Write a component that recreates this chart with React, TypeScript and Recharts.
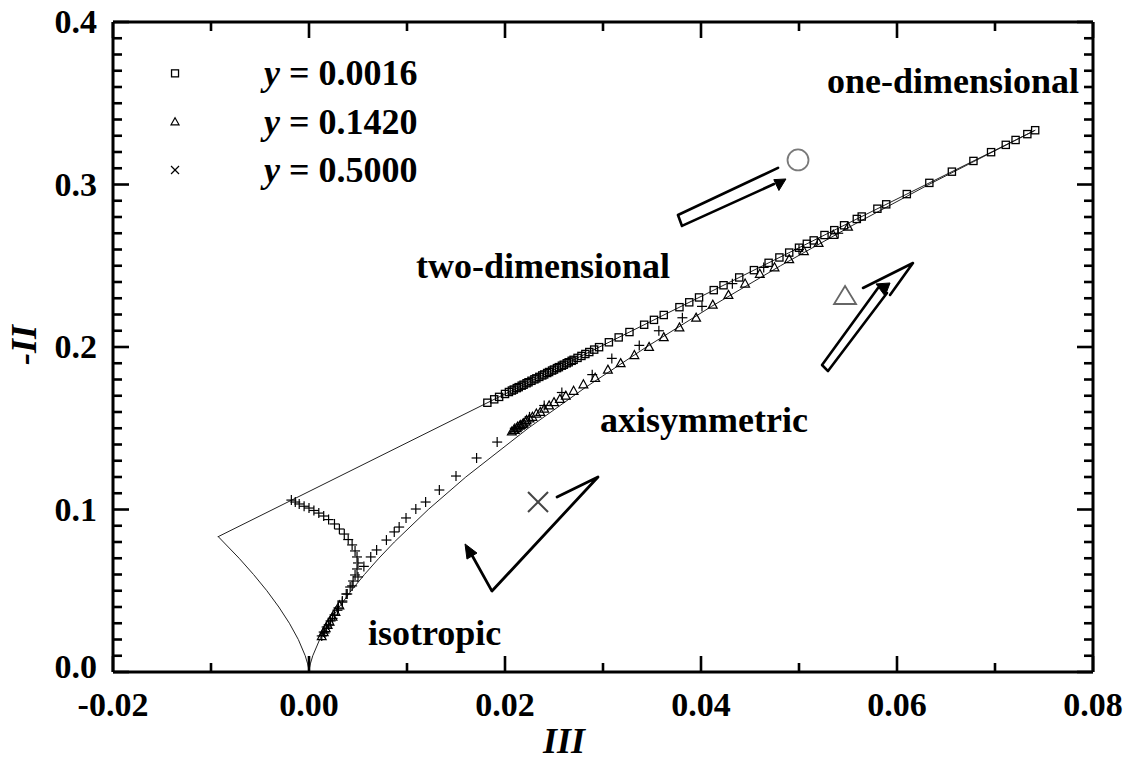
import React from 'react';
import { ScatterChart, Scatter, XAxis, YAxis } from 'recharts';

const FONT = '"Liberation Serif", "Times New Roman", serif';
const FS = 36;
const TICK_FS = 34;

// ---- axis ticks ----
const xTicks = [-0.02, -0.01, 0, 0.01, 0.02, 0.03, 0.04, 0.05, 0.06, 0.07, 0.08];
const xTickLabels = ['-0.02', '', '0.00', '', '0.02', '', '0.04', '', '0.06', '', '0.08'];
const yTicks = [
  0, 0.01, 0.02, 0.03, 0.04, 0.05, 0.06, 0.07, 0.08, 0.09,
  0.1, 0.11, 0.12, 0.13, 0.14, 0.15, 0.16, 0.17, 0.18, 0.19,
  0.2, 0.21, 0.22, 0.23, 0.24, 0.25, 0.26, 0.27, 0.28, 0.29,
  0.3, 0.31, 0.32, 0.33, 0.34, 0.35, 0.36, 0.37, 0.38, 0.39, 0.4,
];
const yTickLabels = [
  '0.0', '', '', '', '', '', '', '', '', '',
  '0.1', '', '', '', '', '', '', '', '', '',
  '0.2', '', '', '', '', '', '', '', '', '',
  '0.3', '', '', '', '', '', '', '', '', '',
  '0.4',
];

// ---- Lumley triangle boundaries [III, -II] ----
const twoComponentLine: number[][] = [[-0.00926, 0.0833], [0.07407, 0.3333]];
const leftAxisymmetric: number[][] = [
  [0, 0], [-0.00005, 0.0025], [-0.000136, 0.005], [-0.000385, 0.01], [-0.00109, 0.02],
  [-0.002, 0.03], [-0.00308, 0.04], [-0.0043, 0.05], [-0.00566, 0.06], [-0.00713, 0.07],
  [-0.00926, 0.0833],
];
const rightAxisymmetric: number[][] = [
  [0, 0], [0.00005, 0.0025], [0.000136, 0.005], [0.000385, 0.01], [0.00109, 0.02],
  [0.002, 0.03], [0.00308, 0.04], [0.0043, 0.05], [0.00566, 0.06], [0.00713, 0.07],
  [0.00871, 0.08], [0.01217, 0.1], [0.016, 0.12], [0.02236, 0.15], [0.02818, 0.175],
  [0.03443, 0.2], [0.04108, 0.225], [0.04811, 0.25], [0.0555, 0.275], [0.06325, 0.3],
  [0.07407, 0.3333],
];

// ---- data series [III, -II] ----
const seriesY0016: number[][] = [
  [0.0182, 0.1657], [0.0189, 0.1678], [0.0194, 0.1693], [0.02, 0.1711], [0.0204, 0.1723],
  [0.0207, 0.1732], [0.0209, 0.1738], [0.0212, 0.1747], [0.0214, 0.1753], [0.0217, 0.1762],
  [0.0219, 0.1768], [0.0222, 0.1777], [0.0224, 0.1783], [0.0227, 0.1792], [0.023, 0.1801],
  [0.0232, 0.1807], [0.0235, 0.1816], [0.0238, 0.1825], [0.024, 0.1831], [0.0243, 0.184],
  [0.0245, 0.1846], [0.0248, 0.1855], [0.025, 0.1861], [0.0253, 0.187], [0.0255, 0.1876],
  [0.0258, 0.1885], [0.026, 0.1891], [0.0263, 0.19], [0.0265, 0.1906], [0.0268, 0.1915],
  [0.027, 0.1921], [0.0274, 0.1933], [0.0278, 0.1945], [0.0282, 0.1957], [0.0286, 0.1969],
  [0.0291, 0.1984], [0.0296, 0.1999], [0.0306, 0.2029], [0.0316, 0.2059], [0.0327, 0.2092],
  [0.0342, 0.2137], [0.0352, 0.2167], [0.0362, 0.2197], [0.0378, 0.2245], [0.0388, 0.2275],
  [0.0398, 0.2305], [0.0413, 0.235], [0.0423, 0.238], [0.0439, 0.2428], [0.0454, 0.2473],
  [0.0469, 0.2518], [0.048, 0.2551], [0.049, 0.2581], [0.05, 0.2611], [0.0508, 0.2635],
  [0.0515, 0.2656], [0.0526, 0.2689], [0.0536, 0.2719], [0.0546, 0.2749], [0.0559, 0.2788],
  [0.0564, 0.2803], [0.058, 0.2851], [0.0589, 0.2878], [0.061, 0.2941], [0.0633, 0.301],
  [0.0656, 0.3079], [0.0678, 0.3145], [0.0696, 0.3199], [0.0711, 0.3244], [0.0721, 0.3274],
  [0.0733, 0.331], [0.0741, 0.3334],
];
const seriesY1420: number[][] = [
  [0.0013, 0.022], [0.0015, 0.0245], [0.0017, 0.027], [0.0019, 0.029], [0.0021, 0.031],
  [0.0024, 0.034], [0.0027, 0.037], [0.0031, 0.041],
  [0.0207, 0.148], [0.0209, 0.149], [0.021, 0.149], [0.0212, 0.150], [0.0213, 0.151], [0.0215, 0.1515],
  [0.0216, 0.152], [0.0218, 0.1525], [0.0219, 0.153], [0.0221, 0.154],
  [0.0222, 0.155], [0.0225, 0.156], [0.0228, 0.157], [0.0232, 0.159], [0.0236, 0.16],
  [0.024, 0.162], [0.0245, 0.164], [0.025, 0.166], [0.0256, 0.168], [0.0262, 0.17],
  [0.027, 0.173], [0.028, 0.177], [0.0292, 0.181], [0.0305, 0.186], [0.0318, 0.19],
  [0.0332, 0.195], [0.0347, 0.2], [0.0362, 0.206], [0.0378, 0.212], [0.0395, 0.218],
  [0.0412, 0.226], [0.0428, 0.232], [0.0445, 0.239], [0.046, 0.245], [0.0475, 0.249],
  [0.049, 0.254], [0.0505, 0.259], [0.052, 0.264], [0.0535, 0.269], [0.055, 0.274],
];
const seriesY5000: number[][] = [
  [-0.0018, 0.1058], [-0.0014, 0.1046], [-0.001, 0.1034], [-0.0005, 0.102], [0.0, 0.1009],
  [0.0005, 0.0994], [0.001, 0.0978], [0.0015, 0.096], [0.002, 0.0938], [0.0026, 0.0911],
  [0.0031, 0.088], [0.0036, 0.0849], [0.004, 0.0815], [0.0044, 0.0782], [0.0047, 0.0745],
  [0.0049, 0.0708], [0.005, 0.0671], [0.0049, 0.0634], [0.0047, 0.0597], [0.0045, 0.056],
  [0.0042, 0.0523], [0.0038, 0.048], [0.0034, 0.0437], [0.003, 0.0394], [0.0026, 0.0351],
  [0.0022, 0.0314], [0.0018, 0.0277], [0.0015, 0.0246], [0.0013, 0.0222],
  [0.0016, 0.024], [0.002, 0.029], [0.0024, 0.033], [0.0029, 0.038], [0.0034, 0.043],
  [0.0039, 0.048], [0.0044, 0.053], [0.005, 0.0585], [0.0056, 0.065], [0.0063, 0.0708],
  [0.0069, 0.0751], [0.0079, 0.0812], [0.0087, 0.0862], [0.0092, 0.0892], [0.0099, 0.0948],
  [0.0109, 0.1003], [0.0119, 0.1046], [0.0133, 0.112], [0.015, 0.1206], [0.0171, 0.1317],
  [0.0192, 0.1415], [0.021, 0.15], [0.0225, 0.157], [0.024, 0.164], [0.0258, 0.172],
  [0.0289, 0.183], [0.0309, 0.193], [0.0337, 0.201], [0.0357, 0.21], [0.0381, 0.218],
  [0.0401, 0.225], [0.0432, 0.239], [0.0464, 0.249], [0.05, 0.26], [0.054, 0.27],
];

// ---- legend ----
const legendKinds = ['square', 'triangle', 'cross'];
const legendValues = ['0.0016', '0.1420', '0.5000'];
const legendPoints: number[][] = [[-0.01367, 0.3684], [-0.01367, 0.3386], [-0.01367, 0.3089]];

// ---- region labels ----
const regionLabels = ['one-dimensional', 'two-dimensional', 'axisymmetric', 'isotropic'];
const regionPoints: number[][] = [[0.05286, 0.3563], [0.01092, 0.2425], [0.02969, 0.1477], [0.00602, 0.0166]];

// ---- big open symbols ----
const bigSymbolKinds = ['circle', 'triangle', 'cross'];
const bigSymbolPoints: number[][] = [[0.0499, 0.3151], [0.0547, 0.2314], [0.02337, 0.1046]];

// ---- arrows ----
const arrowCircleBody: number[][] = [[0.04786, 0.3102], [0.03765, 0.2812], [0.03806, 0.2745], [0.04745, 0.3003]];
const arrowCircleHead: number[][] = [[0.04867, 0.3034], [0.04795, 0.2963], [0.04743, 0.303]];
const arrowTriBody: number[][] = [[0.05806, 0.2363], [0.05235, 0.1889], [0.05296, 0.1852], [0.05898, 0.2332]];
const arrowTriHeadLines: number[][] = [[0.05653, 0.2363], [0.06163, 0.2517], [0.05929, 0.232]];
const arrowTriHead: number[][] = [[0.05786, 0.2388], [0.05929, 0.2394], [0.05878, 0.2314]];
const arrowCrossBody: number[][] = [[0.02531, 0.1077], [0.02949, 0.12], [0.01867, 0.0498], [0.01622, 0.0763]];
const arrowCrossHead: number[][] = [[0.01592, 0.0788], [0.01714, 0.0732], [0.01612, 0.0695]];

const toXY = (arr: number[][], extra?: (i: number) => any) =>
  arr.map((p, i) => ({ x: p[0], y: p[1], ...(extra ? extra(i) : {}) }));

const findLabel = (ticks: number[], labels: string[], v: number) => {
  const i = ticks.findIndex((t) => Math.abs(t - v) < 1e-9);
  return i >= 0 ? labels[i] : '';
};

const TICK_W = 2.6;
const MAJOR = 16;
const MINOR = 9;

const BottomTick = (p: any) => {
  const lab = findLabel(xTicks, xTickLabels, p.payload.value);
  const len = lab ? MAJOR : MINOR;
  return (
    <g>
      <line x1={p.x} x2={p.x} y1={p.y} y2={p.y - len} stroke="#000" strokeWidth={TICK_W} />
      {lab && (
        <text x={p.x} y={p.y + 44} textAnchor="middle" fontFamily={FONT} fontWeight="bold" fontSize={TICK_FS} fill="#000">
          {lab}
        </text>
      )}
    </g>
  );
};
const TopTick = (p: any) => {
  const lab = findLabel(xTicks, xTickLabels, p.payload.value);
  const len = lab ? MAJOR : MINOR;
  return <line x1={p.x} x2={p.x} y1={p.y} y2={p.y + len} stroke="#000" strokeWidth={TICK_W} />;
};
const LeftTick = (p: any) => {
  const lab = findLabel(yTicks, yTickLabels, p.payload.value);
  const len = lab ? MAJOR : MINOR;
  const isZero = Math.abs(p.payload.value) < 1e-9;
  return (
    <g>
      <line x1={p.x} x2={p.x + len} y1={p.y} y2={p.y} stroke="#000" strokeWidth={TICK_W} />
      {lab && (
        <text x={p.x - 16} y={p.y + (isZero ? 6 : 11)} textAnchor="end" fontFamily={FONT} fontWeight="bold" fontSize={TICK_FS} fill="#000">
          {lab}
        </text>
      )}
    </g>
  );
};
const RightTick = (p: any) => {
  const lab = findLabel(yTicks, yTickLabels, p.payload.value);
  const len = lab ? MAJOR : MINOR;
  return <line x1={p.x} x2={p.x - len} y1={p.y} y2={p.y} stroke="#000" strokeWidth={TICK_W} />;
};

const Square = (p: any) => (
  <rect x={p.cx - 3.6} y={p.cy - 3.6} width={7.2} height={7.2} fill="none" stroke="#000" strokeWidth={1.3} />
);
const Tri = (p: any) => (
  <polygon
    points={`${p.cx},${p.cy - 4.6} ${p.cx + 4.4},${p.cy + 3.4} ${p.cx - 4.4},${p.cy + 3.4}`}
    fill="none"
    stroke="#000"
    strokeWidth={1.2}
  />
);
const Plus = (p: any) => (
  <g stroke="#000" strokeWidth={1.2}>
    <line x1={p.cx - 5} x2={p.cx + 5} y1={p.cy} y2={p.cy} />
    <line x1={p.cx} x2={p.cx} y1={p.cy - 5} y2={p.cy + 5} />
  </g>
);
const Nothing = () => <g />;

const LegendShape = (p: any) => {
  const kind = p.kind ?? (p.payload && p.payload.kind);
  const value = p.value ?? (p.payload && p.payload.value);
  const { cx, cy } = p;
  let marker: any = null;
  if (kind === 'square') marker = <rect x={cx - 3.5} y={cy - 3.5} width={7} height={7} fill="#fff" stroke="#000" strokeWidth={1.3} />;
  else if (kind === 'triangle')
    marker = <polygon points={`${cx},${cy - 4} ${cx + 4},${cy + 3} ${cx - 4},${cy + 3}`} fill="#fff" stroke="#000" strokeWidth={1.2} />;
  else
    marker = (
      <g stroke="#000" strokeWidth={1.2}>
        <line x1={cx - 4} x2={cx + 4} y1={cy - 4} y2={cy + 4} />
        <line x1={cx - 4} x2={cx + 4} y1={cy + 4} y2={cy - 4} />
      </g>
    );
  return (
    <g>
      {marker}
      <text x={cx + 89} y={cy + 12} fontFamily={FONT} fontWeight="bold" fontSize={FS} fill="#000">
        <tspan fontStyle="italic">y</tspan>
        {` = ${value}`}
      </text>
    </g>
  );
};

const RegionShape = (p: any) => {
  const label = p.label ?? (p.payload && p.payload.label);
  return (
    <text x={p.cx} y={p.cy} fontFamily={FONT} fontWeight="bold" fontSize={FS} fill="#000">
      {label}
    </text>
  );
};

const BigSymbol = (p: any) => {
  const kind = p.kind ?? (p.payload && p.payload.kind);
  const { cx, cy } = p;
  if (kind === 'circle') return <circle cx={cx} cy={cy} r={10.5} fill="none" stroke="#7a7a7a" strokeWidth={1.8} />;
  if (kind === 'triangle')
    return (
      <polygon
        points={`${cx},${cy - 10} ${cx + 11},${cy + 8} ${cx - 11},${cy + 8}`}
        fill="none"
        stroke="#666"
        strokeWidth={1.8}
      />
    );
  return (
    <g stroke="#444" strokeWidth={2}>
      <line x1={cx - 10} x2={cx + 10} y1={cy - 10} y2={cy + 10} />
      <line x1={cx - 10} x2={cx + 10} y1={cy + 10} y2={cy - 10} />
    </g>
  );
};

const filledPolygon = (lp: any) => (
  <polygon points={(lp.points || []).map((q: any) => `${q.x},${q.y}`).join(' ')} fill="#000" stroke="#000" strokeWidth={1} />
);
const polyline = (w: number, color: string) => (lp: any) => (
  <polyline
    points={(lp.points || []).map((q: any) => `${q.x},${q.y}`).join(' ')}
    fill="none"
    stroke={color}
    strokeWidth={w}
    strokeLinejoin="round"
    strokeLinecap="round"
  />
);

const XLabel = (props: any) => {
  const vb = props.viewBox || { x: 113, y: 672, width: 980, height: 92 };
  return (
    <text x={vb.x + 451} y={vb.y + 81} textAnchor="middle" fontFamily={FONT} fontWeight="bold" fontStyle="italic" fontSize={FS} fill="#000">
      III
    </text>
  );
};
const YLabel = (props: any) => {
  const vb = props.viewBox || { x: 0, y: 22, width: 113, height: 650 };
  const cx = 24;
  const cy = vb.y + vb.height / 2 - 2;
  return (
    <text
      x={cx}
      y={cy}
      transform={`rotate(-90 ${cx} ${cy})`}
      textAnchor="middle"
      dominantBaseline="central"
      fontFamily={FONT}
      fontWeight="bold"
      fontStyle="italic"
      fontSize={FS}
      fill="#000"
    >
      -II
    </text>
  );
};

const axisLineStyle = { stroke: '#000', strokeWidth: 3 };

export default function App() {
  const common = { xAxisId: 'b', yAxisId: 'l', isAnimationActive: false } as any;
  return (
    <div style={{ position: 'absolute', left: 0, top: 0, width: 1133, height: 764, background: '#fff' }}>
      <ScatterChart width={1133} height={764} margin={{ top: 0, right: 0, bottom: 0, left: 0 }}>
        <XAxis
          xAxisId="b"
          type="number"
          dataKey="x"
          domain={[-0.02, 0.08]}
          ticks={xTicks}
          interval={0}
          allowDataOverflow
          height={92}
          tickSize={0}
          tickMargin={0}
          tickLine={false}
          axisLine={axisLineStyle}
          tick={(p: any) => <BottomTick {...p} />}
          label={{ content: (p: any) => <XLabel {...p} /> }}
        />
        <XAxis
          xAxisId="t"
          orientation="top"
          type="number"
          dataKey="x"
          domain={[-0.02, 0.08]}
          ticks={xTicks}
          interval={0}
          allowDataOverflow
          height={22}
          tickSize={0}
          tickMargin={0}
          tickLine={false}
          axisLine={axisLineStyle}
          tick={(p: any) => <TopTick {...p} />}
        />
        <YAxis
          yAxisId="l"
          type="number"
          dataKey="y"
          domain={[0, 0.4]}
          ticks={yTicks}
          interval={0}
          allowDataOverflow
          width={113}
          tickSize={0}
          tickMargin={0}
          tickLine={false}
          axisLine={axisLineStyle}
          tick={(p: any) => <LeftTick {...p} />}
          label={{ content: (p: any) => <YLabel {...p} /> }}
        />
        <YAxis
          yAxisId="r"
          orientation="right"
          type="number"
          dataKey="y"
          domain={[0, 0.4]}
          ticks={yTicks}
          interval={0}
          allowDataOverflow
          width={40}
          tickSize={0}
          tickMargin={0}
          tickLine={false}
          axisLine={axisLineStyle}
          tick={(p: any) => <RightTick {...p} />}
        />

        {/* Lumley triangle boundaries */}
        <Scatter {...common} name="two-component" data={toXY(twoComponentLine)} shape={Nothing} line={polyline(1, '#222')} />
        <Scatter {...common} name="axisymmetric-left" data={toXY(leftAxisymmetric)} shape={Nothing} line={polyline(1, '#222')} />
        <Scatter {...common} name="axisymmetric-right" data={toXY(rightAxisymmetric)} shape={Nothing} line={polyline(1, '#222')} />

        {/* data */}
        <Scatter {...common} name="y = 0.5000" data={toXY(seriesY5000)} shape={Plus} />
        <Scatter {...common} name="y = 0.1420" data={toXY(seriesY1420)} shape={Tri} />
        <Scatter {...common} name="y = 0.0016" data={toXY(seriesY0016)} shape={Square} />

        {/* arrows */}
        <Scatter {...common} name="arrow-c" data={toXY(arrowCircleBody)} shape={Nothing} line={polyline(2.6, '#000')} />
        <Scatter {...common} name="arrow-c-head" data={toXY(arrowCircleHead)} shape={Nothing} line={filledPolygon} />
        <Scatter {...common} name="arrow-t" data={toXY(arrowTriBody)} shape={Nothing} line={polyline(2.6, '#000')} />
        <Scatter {...common} name="arrow-t-lines" data={toXY(arrowTriHeadLines)} shape={Nothing} line={polyline(2.6, '#000')} />
        <Scatter {...common} name="arrow-t-head" data={toXY(arrowTriHead)} shape={Nothing} line={filledPolygon} />
        <Scatter {...common} name="arrow-x" data={toXY(arrowCrossBody)} shape={Nothing} line={polyline(2.8, '#000')} />
        <Scatter {...common} name="arrow-x-head" data={toXY(arrowCrossHead)} shape={Nothing} line={filledPolygon} />

        {/* big symbols */}
        <Scatter {...common} name="symbols" data={toXY(bigSymbolPoints, (i) => ({ kind: bigSymbolKinds[i] }))} shape={BigSymbol} />

        {/* region labels */}
        <Scatter {...common} name="regions" data={toXY(regionPoints, (i) => ({ label: regionLabels[i] }))} shape={RegionShape} />

        {/* legend */}
        <Scatter
          {...common}
          name="legend"
          data={toXY(legendPoints, (i) => ({ kind: legendKinds[i], value: legendValues[i] }))}
          shape={LegendShape}
        />
      </ScatterChart>
    </div>
  );
}
